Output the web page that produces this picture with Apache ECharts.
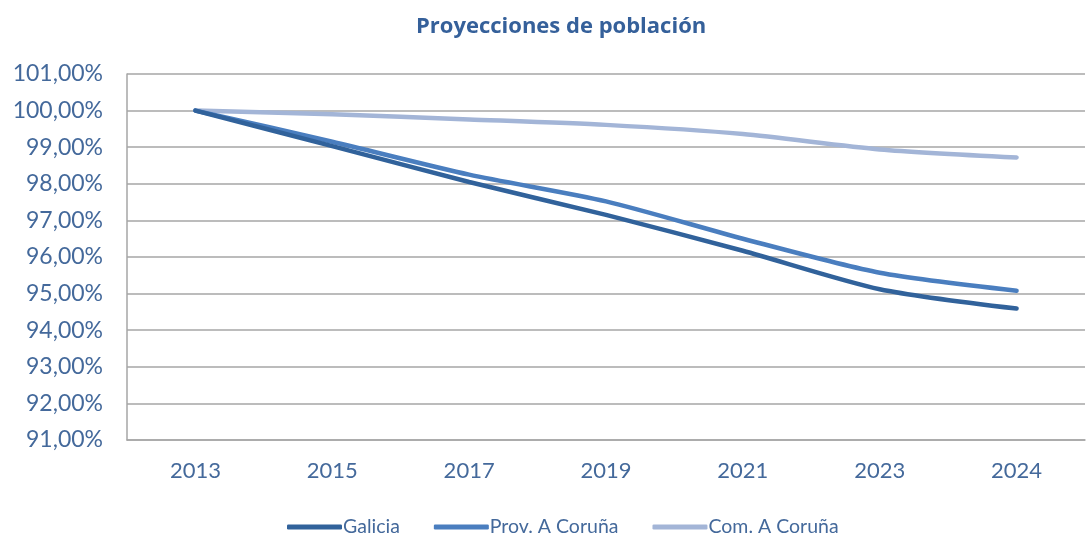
<!DOCTYPE html>
<html>
<head>
<meta charset="utf-8">
<script src="https://cdn.jsdelivr.net/npm/echarts@6/dist/echarts.min.js"></script>
<style>
  html, body { margin: 0; padding: 0; background: #fff; }
  #chart { width: 1086px; height: 536px; }
</style>
</head>
<body>
<div id="chart"></div>
<script>
// Population projections, index 2013 = 100 %
const years = ['2013', '2015', '2017', '2019', '2021', '2023', '2024'];
const galicia = [100.00, 99.03, 98.05, 97.15, 96.17, 95.12, 94.59];
const provCoruna = [100.00, 99.15, 98.25, 97.52, 96.50, 95.57, 95.08];
const comCoruna = [100.00, 99.90, 99.76, 99.61, 99.36, 98.94, 98.72];
const seriesNames = ['Galicia', 'Prov. A Coruña', 'Com. A Coruña'];
const seriesColors = ['#31629b', '#4a7ebf', '#a3b5d7'];

const FONT = 'Lato, "Open Sans", sans-serif';
const TEXT = '#44699b';

const fmt = v => v.toFixed(2).replace('.', ',') + '%';

const chart = echarts.init(document.getElementById('chart'), null, { renderer: 'canvas' });
chart.setOption({
  animation: false,
  backgroundColor: '#ffffff',
  title: {
    text: 'Proyecciones de población',
    left: 411,
    top: 11,
    textStyle: { fontFamily: '"Open Sans", Lato, sans-serif', fontSize: 22, fontWeight: 'bold', color: '#35609a' }
  },
  legend: {
    top: 512,
    left: 282,
    itemWidth: 55,
    itemHeight: 5,
    itemGap: 34,
    icon: 'roundRect',
    textStyle: { fontFamily: FONT, fontSize: 19.5, color: TEXT, padding: [0, 0, 0, -4] },
    data: seriesNames
  },
  grid: { left: 127, right: 1, top: 74, bottom: 96, containLabel: false },
  xAxis: {
    type: 'category',
    data: years,
    boundaryGap: true,
    axisLine: { show: true, lineStyle: { color: '#a6a6a6', width: 1.5 } },
    axisTick: { show: false },
    axisLabel: { fontFamily: FONT, fontSize: 22, color: TEXT, margin: 20 }
  },
  yAxis: {
    type: 'value',
    min: 91,
    max: 101,
    interval: 1,
    axisLine: { show: true, lineStyle: { color: '#a6a6a6', width: 1.5 } },
    axisTick: { show: false },
    splitLine: { lineStyle: { color: '#a6a6a6', width: 1.5 } },
    axisLabel: { fontFamily: FONT, fontSize: 23, color: TEXT, margin: 24, formatter: fmt }
  },
  series: [galicia, provCoruna, comCoruna].map((d, i) => ({
    name: seriesNames[i],
    type: 'line',
    data: d,
    smooth: 0.25,
    symbol: 'none',
    color: seriesColors[i],
    lineStyle: { width: 4.5, color: seriesColors[i], cap: 'round' },
    z: 3 - i
  }))
});
</script>
</body>
</html>
